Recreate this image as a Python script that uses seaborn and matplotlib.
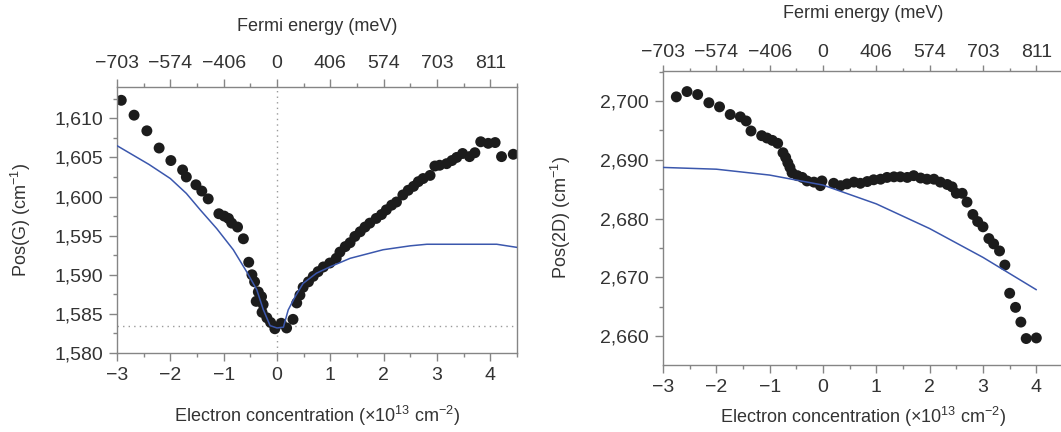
import matplotlib
matplotlib.use("Agg")
import matplotlib.pyplot as plt
from matplotlib.ticker import MultipleLocator, FuncFormatter
import pandas as pd
import seaborn as sns

# ---- G peak: measured positions and adiabatic theory ----
g_n = [-2.92, -2.68, -2.44, -2.21, -1.99, -1.77, -1.70, -1.52, -1.41, -1.29,
       -1.09, -0.99, -0.91, -0.85, -0.74, -0.63, -0.53, -0.47, -0.42, -0.39,
       -0.35, -0.29, -0.26, -0.28, -0.19, -0.12, -0.04, 0.08, 0.18, 0.30,
       0.37, 0.43, 0.49, 0.59, 0.68, 0.77, 0.87, 0.99, 1.11, 1.18,
       1.28, 1.37, 1.46, 1.56, 1.65, 1.74, 1.86, 1.96, 2.05, 2.15,
       2.24, 2.36, 2.46, 2.56, 2.65, 2.74, 2.87, 2.96, 3.05, 3.18,
       3.28, 3.37, 3.48, 3.61, 3.71, 3.82, 3.96, 4.09, 4.21, 4.43]
g_pos = [1612.3, 1610.4, 1608.4, 1606.2, 1604.6, 1603.4, 1602.5, 1601.5, 1600.7, 1599.7,
         1597.8, 1597.5, 1597.2, 1596.6, 1596.1, 1594.6, 1591.6, 1590.0, 1589.1, 1586.6,
         1587.8, 1587.2, 1586.2, 1585.2, 1584.5, 1583.9, 1583.1, 1583.8, 1583.2, 1584.3,
         1586.4, 1587.4, 1588.4, 1589.1, 1589.8, 1590.4, 1591.0, 1591.5, 1592.1, 1592.9,
         1593.6, 1594.1, 1594.9, 1595.5, 1596.1, 1596.6, 1597.2, 1597.7, 1598.3, 1598.9,
         1599.3, 1600.2, 1600.8, 1601.3, 1601.9, 1602.3, 1602.7, 1603.9, 1604.0, 1604.2,
         1604.6, 1605.0, 1605.5, 1605.1, 1605.6, 1607.0, 1606.8, 1606.9, 1605.1, 1605.4]
g_theory_n = [-3.0, -2.7, -2.4, -2.0, -1.7, -1.44, -1.13, -0.82, -0.57, -0.38,
              -0.26, -0.13, 0.0, 0.12, 0.21, 0.34, 0.49, 0.74, 0.99, 1.37,
              1.99, 2.50, 2.81, 4.12, 4.50]
g_theory_pos = [1606.5, 1605.3, 1604.1, 1602.3, 1600.4, 1598.3, 1595.9, 1593.2, 1590.4, 1588.1,
                1585.6, 1583.5, 1583.2, 1583.3, 1585.5, 1587.2, 1588.9, 1590.2, 1591.0, 1592.1,
                1593.2, 1593.7, 1593.9, 1593.9, 1593.5]
g_undoped = 1583.5

# ---- 2D peak: measured positions and theory ----
d_n = [-2.75, -2.55, -2.35, -2.14, -1.94, -1.74, -1.55, -1.44, -1.35, -1.15,
       -1.05, -0.95, -0.85, -0.75, -0.70, -0.66, -0.62, -0.58, -0.48, -0.39,
       -0.30, -0.17, -0.05, -0.02, 0.20, 0.33, 0.45, 0.58, 0.70, 0.83,
       0.95, 1.08, 1.20, 1.33, 1.45, 1.58, 1.70, 1.83, 1.95, 2.08,
       2.20, 2.33, 2.42, 2.50, 2.61, 2.70, 2.81, 2.90, 3.00, 3.11,
       3.20, 3.31, 3.41, 3.50, 3.61, 3.71, 3.81, 4.00]
d_pos = [2700.7, 2701.6, 2701.1, 2699.7, 2699.0, 2697.7, 2697.3, 2696.6, 2694.9, 2694.1,
         2693.7, 2693.3, 2692.8, 2691.2, 2690.4, 2689.5, 2688.7, 2687.8, 2687.3, 2687.0,
         2686.4, 2686.2, 2685.6, 2686.4, 2686.0, 2685.6, 2685.9, 2686.2, 2686.0, 2686.3,
         2686.6, 2686.7, 2687.0, 2687.1, 2687.1, 2687.0, 2687.3, 2686.9, 2686.7, 2686.7,
         2686.2, 2685.8, 2685.4, 2684.3, 2684.3, 2682.8, 2680.7, 2679.5, 2678.6, 2676.6,
         2675.7, 2674.5, 2672.1, 2667.3, 2664.9, 2662.4, 2659.6, 2659.7]
d_theory_n = [-3, -2, -1, 0, 1, 2, 3, 4]
d_theory_pos = [2688.7, 2688.4, 2687.4, 2685.7, 2682.5, 2678.3, 2673.4, 2667.9]

# ---- shared axes labelling ----
conc_ticks = [-3, -2, -1, 0, 1, 2, 3, 4]
fermi_labels = ["\u2212703", "\u2212574", "\u2212406", "0", "406", "574", "703", "811"]

sns.set_style("ticks")
FONT = ["Liberation Sans Narrow", "Liberation Sans", "DejaVu Sans"]
plt.rcParams["font.family"] = FONT
plt.rcParams["mathtext.fontset"] = "custom"
plt.rcParams["mathtext.rm"] = "Liberation Sans"
plt.rcParams["mathtext.default"] = "regular"

TEXT = "#333333"
SPINE = "#858585"
DOT = "#1c1c1c"
BLUE = "#3b57ad"
FS_TICK = 14
FS_LAB = 13

fig = plt.figure(figsize=(10.61, 4.32), dpi=100)
W, H = 1061, 432


def px_axes(left, top, right, bottom):
    return fig.add_axes([left / W, 1 - bottom / H, (right - left) / W, (bottom - top) / H])


def style(ax, ylim, ymajor, yminor, ylabel, ylab_x, xlab_y, top_lab_y,
          top_len, top_pad):
    ax.set_xlim(-3, 4.5)
    ax.set_ylim(*ylim)
    ax.set_xticks(conc_ticks)
    ax.xaxis.set_minor_locator(MultipleLocator(0.5))
    ax.yaxis.set_major_locator(MultipleLocator(ymajor))
    ax.yaxis.set_minor_locator(MultipleLocator(yminor))
    ax.yaxis.set_major_formatter(FuncFormatter(lambda v, p: f"{v:,.0f}"))
    ax.xaxis.set_major_formatter(FuncFormatter(lambda v, p: f"{v:.0f}".replace("-", "\u2212")))
    for s in ax.spines.values():
        s.set_color(SPINE)
        s.set_linewidth(1.0)
    ax.tick_params(axis="both", which="major", length=6, width=1.0, color=SPINE,
                   labelcolor=TEXT, labelsize=FS_TICK)
    ax.tick_params(axis="both", which="minor", length=3, width=1.0, color=SPINE)
    ax.tick_params(axis="x", which="major", pad=4)
    ax.tick_params(axis="y", which="major", pad=4)
    ax.set_xlabel("Electron concentration (\u00d710$^{13}$ cm$^{\u22122}$)",
                  fontsize=FS_LAB, color=TEXT)
    ax.set_ylabel(ylabel, fontsize=FS_LAB, color=TEXT)
    ax.yaxis.set_label_coords(ylab_x, 0.5)
    ax.xaxis.set_label_coords(0.5, xlab_y)

    top = ax.twiny()
    top.set_xlim(ax.get_xlim())
    top.set_xticks(conc_ticks)
    top.set_xticklabels(fermi_labels)
    top.xaxis.set_minor_locator(MultipleLocator(0.5))
    for s in top.spines.values():
        s.set_visible(False)
    top.tick_params(axis="x", which="major", length=top_len, width=1.0, color=SPINE,
                    labelcolor=TEXT, labelsize=FS_TICK, pad=top_pad)
    top.tick_params(axis="x", which="minor", length=top_len / 2, width=1.0, color=SPINE)
    top.set_xlabel("Fermi energy (meV)", fontsize=FS_LAB, color=TEXT)
    top.xaxis.set_label_coords(0.5, top_lab_y)
    return top


# ---- left panel: G peak ----
ax1 = px_axes(117, 87, 517, 353)
g_df = pd.DataFrame({"n": g_n, "pos": g_pos})
g_th = pd.DataFrame({"n": g_theory_n, "pos": g_theory_pos})
ax1.axvline(0, color="#9a9a9a", lw=1.0, ls=(0, (1, 3)), zorder=1)
ax1.axhline(g_undoped, color="#9a9a9a", lw=1.0, ls=(0, (1, 3)), zorder=1)
sns.scatterplot(data=g_df, x="n", y="pos", ax=ax1, s=62, color=DOT,
                edgecolor="none", zorder=2)
sns.lineplot(data=g_th, x="n", y="pos", ax=ax1, color=BLUE, lw=1.1,
             sort=False, zorder=3)
style(ax1, (1580, 1614), 5, 2.5, "Pos(G) (cm$^{\u22121}$)", -0.21, -0.19, 1.21,
      6, 5)

# ---- right panel: 2D peak ----
ax2 = px_axes(663, 71, 1063, 365)
d_df = pd.DataFrame({"n": d_n, "pos": d_pos})
d_th = pd.DataFrame({"n": d_theory_n, "pos": d_theory_pos})
sns.scatterplot(data=d_df, x="n", y="pos", ax=ax2, s=62, color=DOT,
                edgecolor="none", zorder=2)
sns.lineplot(data=d_th, x="n", y="pos", ax=ax2, color=BLUE, lw=1.1,
             sort=False, zorder=3)
style(ax2, (2655.1, 2705.1), 10, 5, "Pos(2D) (cm$^{\u22121}$)", -0.225, -0.135, 1.18,
      4, 3)

fig.savefig("out.png", dpi=100)
